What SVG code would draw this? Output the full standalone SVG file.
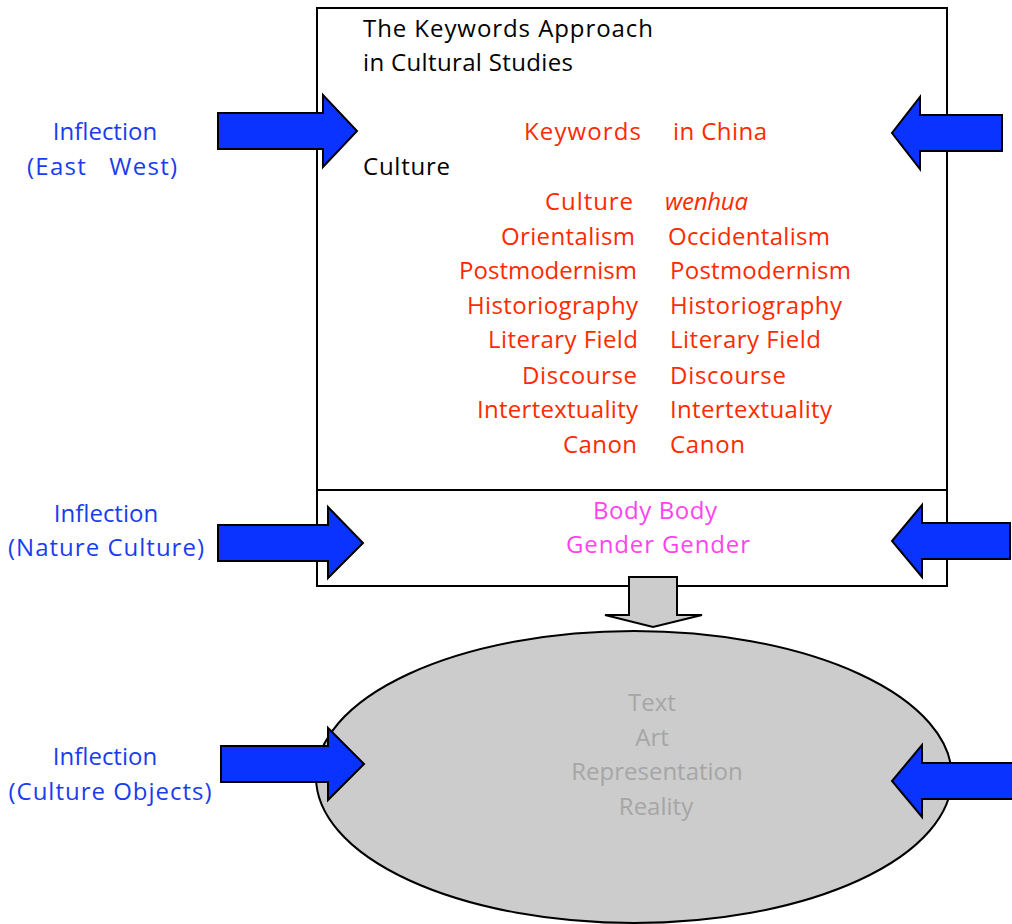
<svg xmlns="http://www.w3.org/2000/svg" width="1012" height="924" viewBox="0 0 1012 924">
<style>
text{font-family:"Open Sans","Liberation Sans",sans-serif;font-size:24px}
.blk{fill:#000}
.red{fill:#ff2a00}
.red-l{fill:#ff2a00;text-anchor:end}
.blue{fill:#1a3cf0;text-anchor:middle}
.mag{fill:#ff44ee;text-anchor:middle}
.gray{fill:#a6a6a6;text-anchor:middle}
.arrow{fill:#0a33ff;stroke:#000;stroke-width:2;stroke-linejoin:miter}
.down{fill:#cccccc;stroke:#000;stroke-width:2}
</style>
<rect width="1012" height="924" fill="#fff"/>
<g id="keywords-box">
<rect x="317" y="8" width="630" height="578" fill="#fff" stroke="#000" stroke-width="2"/>
<line x1="317" y1="490" x2="947" y2="490" stroke="#000" stroke-width="2"/>
<text class="blk" x="363" y="37" textLength="290" lengthAdjust="spacing">The Keywords Approach</text>
<text class="blk" x="363" y="71" textLength="210" lengthAdjust="spacing">in Cultural Studies</text>
<text class="red-l" x="641" y="140" textLength="117" lengthAdjust="spacing">Keywords</text>
<text class="red" x="673" y="140" textLength="94" lengthAdjust="spacing">in China</text>
<text class="blk" x="363" y="175" textLength="87" lengthAdjust="spacing">Culture</text>
<text class="red-l" x="633" y="210" textLength="88" lengthAdjust="spacing">Culture</text>
<text class="red" x="665" y="210" font-style="italic" textLength="83" lengthAdjust="spacing">wenhua</text>
<text class="red-l" x="635" y="245" textLength="134" lengthAdjust="spacing">Orientalism</text>
<text class="red" x="668" y="245" textLength="162" lengthAdjust="spacing">Occidentalism</text>
<text class="red-l" x="637" y="279">Postmodernism</text>
<text class="red" x="670" y="279" textLength="181" lengthAdjust="spacing">Postmodernism</text>
<text class="red-l" x="638" y="314" textLength="171" lengthAdjust="spacing">Historiography</text>
<text class="red" x="670" y="314" textLength="172" lengthAdjust="spacing">Historiography</text>
<text class="red-l" x="638" y="348" textLength="150" lengthAdjust="spacing">Literary Field</text>
<text class="red" x="670" y="348" textLength="151" lengthAdjust="spacing">Literary Field</text>
<text class="red-l" x="637" y="384" textLength="115" lengthAdjust="spacing">Discourse</text>
<text class="red" x="670" y="384" textLength="116" lengthAdjust="spacing">Discourse</text>
<text class="red-l" x="638" y="418" textLength="161" lengthAdjust="spacing">Intertextuality</text>
<text class="red" x="670" y="418" textLength="162" lengthAdjust="spacing">Intertextuality</text>
<text class="red-l" x="637" y="453" textLength="74" lengthAdjust="spacing">Canon</text>
<text class="red" x="670" y="453" textLength="75" lengthAdjust="spacing">Canon</text>
</g>
<g id="body-gender">
<text class="mag" x="655" y="519" textLength="124" lengthAdjust="spacing">Body Body</text>
<text class="mag" x="658" y="553" textLength="184" lengthAdjust="spacing">Gender Gender</text>
</g>
<g id="objects-ellipse">
<ellipse cx="634" cy="777" rx="318" ry="146" fill="#cccccc" stroke="#000" stroke-width="2"/>
<text class="gray" x="652" y="711">Text</text>
<text class="gray" x="652" y="746">Art</text>
<text class="gray" x="657" y="780">Representation</text>
<text class="gray" x="656" y="815">Reality</text>
</g>
<g id="label-east-west">
<text class="blue" x="105" y="140">Inflection</text>
<text class="blue" x="102" y="175" xml:space="preserve" textLength="150" lengthAdjust="spacing">(East   West)</text>
</g>
<g id="label-nature-culture">
<text class="blue" x="106" y="522">Inflection</text>
<text class="blue" x="106" y="556" textLength="196" lengthAdjust="spacing">(Nature Culture)</text>
</g>
<g id="label-culture-objects">
<text class="blue" x="105" y="765">Inflection</text>
<text class="blue" x="110" y="800" textLength="203" lengthAdjust="spacing">(Culture Objects)</text>
</g>
<g id="connectors">
<polygon class="arrow" points="218,113 323,113 323,95 357,131 323,167 323,149 218,149"/>
<polygon class="arrow" points="1002,115 920,115 920,97 892,133 920,169 920,151 1002,151"/>
<polygon class="arrow" points="218,525 328,525 328,507 363,543 328,578 328,561 218,561"/>
<polygon class="arrow" points="1010,523 922,523 922,505 892,541 922,577 922,559 1010,559"/>
<polygon class="arrow" points="221,746 328,746 328,728 364,764 328,800 328,782 221,782"/>
<polygon class="arrow" points="1014,763 922,763 922,745 892,781 922,817 922,799 1014,799"/>
<polygon class="down" points="629,577 677,577 677,615 702,615 653,627 605,615 629,615"/>
</g>
</svg>
